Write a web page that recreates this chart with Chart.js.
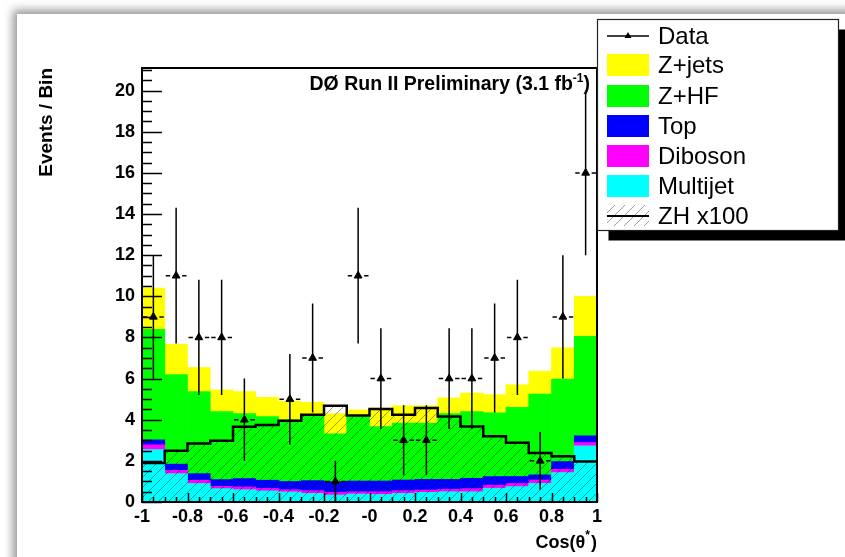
<!DOCTYPE html>
<html>
<head>
<meta charset="utf-8">
<script src="https://cdn.jsdelivr.net/npm/chart.js@4.4.1/dist/chart.umd.min.js"></script>
<style>
html, body { margin: 0; padding: 0; width: 845px; height: 557px; overflow: hidden; background: #fff; }
#paper { position: absolute; left: 17px; top: 14px; width: 900px; height: 600px; background: #fff; box-shadow: 0 0 9px 4px rgba(0,0,0,0.42); }
#wrap { position: absolute; left: 0; top: 0; width: 845px; height: 557px; }
</style>
</head>
<body>
<div id="paper"></div>
<div id="wrap"><canvas id="chartCos" width="845" height="557"></canvas></div>
<script>
// cos(theta*) distribution, 20 bins from -1 to 1
const binCenters = [-0.95, -0.85, -0.75, -0.65, -0.55, -0.45, -0.35, -0.25, -0.15, -0.05,
                    0.05, 0.15, 0.25, 0.35, 0.45, 0.55, 0.65, 0.75, 0.85, 0.95];
const binEdges = [-1, -0.9, -0.8, -0.7, -0.6, -0.5, -0.4, -0.3, -0.2, -0.1, 0,
                  0.1, 0.2, 0.3, 0.4, 0.5, 0.6, 0.7, 0.8, 0.9, 1];
const xTickLabels = ['-1', '-0.8', '-0.6', '-0.4', '-0.2', '-0', '0.2', '0.4', '0.6', '0.8', '1'];

// backgrounds (stacked, bottom to top)
const multijet = [2.55, 1.38, 0.90, 0.65, 0.60, 0.54, 0.49, 0.42, 0.34, 0.39, 0.37, 0.42, 0.47, 0.50, 0.50, 0.67, 0.75, 0.91, 1.43, 2.73];
const diboson  = [0.23, 0.16, 0.16, 0.11, 0.13, 0.12, 0.11, 0.13, 0.13, 0.11, 0.13, 0.13, 0.11, 0.12, 0.15, 0.15, 0.15, 0.16, 0.16, 0.16];
const topq     = [0.24, 0.30, 0.32, 0.33, 0.41, 0.40, 0.40, 0.49, 0.52, 0.52, 0.52, 0.52, 0.52, 0.48, 0.50, 0.42, 0.34, 0.25, 0.38, 0.33];
const zhf      = [5.38, 4.36, 3.99, 3.30, 3.16, 3.09, 3.00, 3.20, 2.33, 3.14, 2.65, 2.77, 2.74, 3.20, 3.25, 3.09, 3.36, 3.93, 4.00, 4.83];
const zjets    = [2.00, 1.47, 1.17, 1.06, 1.07, 0.94, 0.90, 0.61, 0.98, 0.32, 0.90, 0.84, 0.84, 0.76, 0.90, 0.89, 1.10, 1.11, 1.53, 1.95];

// signal x100
const zh100 = [1.90, 2.49, 2.85, 2.98, 3.66, 3.74, 3.95, 4.24, 4.68, 4.20, 4.52, 4.24, 4.57, 4.16, 3.67, 3.20, 2.88, 2.38, 2.23, 1.97];

// data and errors
const dataCounts = [9, 11, 8, 8, 4, 0, 5, 7, 1, 11, 6, 3, 3, 6, 6, 7, 8, 2, 9, 16];
const dataErr = [3.0, 3.3, 2.8, 2.8, 2.0, 0, 2.2, 2.65, 1.0, 3.3, 2.45, 1.7, 1.7, 2.45, 2.45, 2.65, 2.8, 1.4, 3.0, 4.0];

const FONT = '"Liberation Sans", Arial, Helvetica, sans-serif';

function hatch() {
    const c = document.createElement('canvas');
    c.width = 10; c.height = 10;
    const g = c.getContext('2d');
    g.strokeStyle = 'rgba(0,0,0,0.38)';
    g.lineWidth = 1;
    g.beginPath();
    g.moveTo(0, 10); g.lineTo(10, 0);
    g.moveTo(-5, 5); g.lineTo(5, -5);
    g.moveTo(5, 15); g.lineTo(15, 5);
    g.stroke();
    return g.createPattern(c, 'repeat');
}
const zhHatch = hatch();

function bkg(label, values, color) {
    return {
        type: 'bar',
        label: label,
        stack: 'bkg',
        order: 2,
        data: binCenters.map((x, i) => ({ x: x, y: values[i] })),
        backgroundColor: color,
        borderWidth: 0,
        barPercentage: 1,
        categoryPercentage: 1
    };
}

const rootLook = {
    id: 'rootLook',
    afterDatasetsDraw(chart) {
        const { ctx, scales: { x, y } } = chart;
        ctx.save();
        ctx.strokeStyle = '#000';
        ctx.lineWidth = 1.5;
        dataCounts.forEach((n, i) => {
            if (!n) return;
            const cx = x.getPixelForValue(binCenters[i]);
            const cy = y.getPixelForValue(n);
            const x0 = x.getPixelForValue(binEdges[i]);
            const x1 = x.getPixelForValue(binEdges[i + 1]);
            ctx.beginPath();
            ctx.moveTo(cx, y.getPixelForValue(n - dataErr[i]));
            ctx.lineTo(cx, y.getPixelForValue(n + dataErr[i]));
            ctx.moveTo(x0 + 1, cy); ctx.lineTo(cx - 6, cy);
            ctx.moveTo(cx + 6, cy); ctx.lineTo(x1 - 1, cy);
            ctx.stroke();
        });
        ctx.restore();
    },
    afterDraw(chart) {
        const { ctx, chartArea: a, scales: { x, y } } = chart;
        ctx.save();
        // frame
        ctx.strokeStyle = '#000';
        ctx.lineWidth = 2;
        ctx.strokeRect(a.left, a.top, a.right - a.left, a.bottom - a.top);
        // inner ticks
        ctx.lineWidth = 1.5;
        ctx.beginPath();
        for (let k = 0; k <= 42; k++) {
            const py = Math.round(y.getPixelForValue(k / 2)) + 0.5;
            const len = k % 4 === 0 ? 20 : 10;
            ctx.moveTo(a.left, py); ctx.lineTo(a.left + len, py);
        }
        for (let k = 0; k <= 40; k++) {
            const px = Math.round(x.getPixelForValue(-1 + k * 0.05)) + 0.5;
            const len = k % 4 === 0 ? 9 : 5;
            ctx.moveTo(px, a.bottom); ctx.lineTo(px, a.bottom - len);
        }
        ctx.stroke();

        ctx.fillStyle = '#000';
        // plot label
        ctx.textBaseline = 'alphabetic';
        ctx.textAlign = 'left';
        const big = 'bold 19.5px ' + FONT, small = 'bold 12px ' + FONT;
        ctx.font = big;
        const t1 = 'D\u00d8 Run II Preliminary (3.1 fb';
        const w1 = ctx.measureText(t1).width;
        const w3 = ctx.measureText(')').width;
        ctx.font = small;
        const w2 = ctx.measureText('-1').width;
        let tx = 590 - (w1 + w2 + w3);
        ctx.font = big; ctx.fillText(t1, tx, 90);
        ctx.font = small; ctx.fillText('-1', tx + w1, 82);
        ctx.font = big; ctx.fillText(')', tx + w1 + w2, 90);

        // x axis title
        const axisFont = 'bold 18px ' + FONT;
        const c1 = 'Cos(\u03b8';
        ctx.font = axisFont;
        const cw1 = ctx.measureText(c1).width;
        const cw3 = ctx.measureText(')').width;
        ctx.font = small;
        const cw2 = ctx.measureText('*').width + 1;
        tx = a.right - (cw1 + cw2 + cw3);
        ctx.font = axisFont; ctx.fillText(c1, tx, 548);
        ctx.font = small; ctx.fillText('*', tx + cw1, 539);
        ctx.font = axisFont; ctx.fillText(')', tx + cw1 + cw2, 548);

        // y axis title
        ctx.save();
        ctx.translate(47, a.top);
        ctx.rotate(-Math.PI / 2);
        ctx.textAlign = 'right';
        ctx.textBaseline = 'middle';
        ctx.font = 'bold 19px ' + FONT;
        ctx.fillText('Events / Bin', 0, 0);
        ctx.restore();

        // legend box with shadow
        const lg = { x: 597.5, y: 19.5, w: 241, h: 211 };
        ctx.fillStyle = '#000';
        ctx.fillRect(lg.x + 11, lg.y + 10, lg.w, lg.h);
        ctx.fillStyle = '#fff';
        ctx.fillRect(lg.x, lg.y, lg.w, lg.h);
        ctx.strokeStyle = '#222';
        ctx.lineWidth = 1.2;
        ctx.strokeRect(lg.x, lg.y, lg.w, lg.h);

        const ds = chart.data.datasets;
        const byLabel = l => ds.find(d => d.label === l);
        const entries = ['Data', 'Z+jets', 'Z+HF', 'Top', 'Diboson', 'Multijet', 'ZH x100'];
        const rowY = [36, 65, 96, 126, 156, 186, 216];
        ctx.font = '24px ' + FONT;
        ctx.textAlign = 'left';
        ctx.textBaseline = 'middle';
        entries.forEach((name, i) => {
            const d = byLabel(name);
            const cy = rowY[i];
            if (name === 'Data') {
                ctx.strokeStyle = '#000'; ctx.lineWidth = 1.5;
                ctx.beginPath(); ctx.moveTo(607, cy); ctx.lineTo(649, cy); ctx.stroke();
                ctx.fillStyle = '#000';
                ctx.beginPath(); ctx.moveTo(628, cy - 4); ctx.lineTo(631.5, cy + 2); ctx.lineTo(624.5, cy + 2); ctx.closePath(); ctx.fill();
            } else if (name === 'ZH x100') {
                ctx.fillStyle = d.backgroundColor;
                ctx.fillRect(607, cy - 11, 42, 21);
                ctx.strokeStyle = '#000'; ctx.lineWidth = 2;
                ctx.beginPath(); ctx.moveTo(607, cy); ctx.lineTo(649, cy); ctx.stroke();
            } else {
                ctx.fillStyle = d.backgroundColor;
                ctx.fillRect(607, cy - 11, 42, 22);
            }
            ctx.fillStyle = '#000';
            ctx.fillText(name, 658, cy + 1);
        });
        ctx.restore();
    }
};

const ctxCos = document.querySelector('#chartCos').getContext('2d');
const cosChart = new Chart(ctxCos, {
    type: 'bar',
    data: {
        datasets: [
            bkg('Multijet', multijet, '#00ffff'),
            bkg('Diboson', diboson, '#ff00ff'),
            bkg('Top', topq, '#0000ff'),
            bkg('Z+HF', zhf, '#00ff00'),
            bkg('Z+jets', zjets, '#ffff00'),
            {
                type: 'line',
                label: 'ZH x100',
                stack: 'zh',
                order: 1,
                data: binEdges.map((e, i) => ({ x: e, y: zh100[Math.min(i, zh100.length - 1)] })),
                stepped: 'before',
                borderColor: '#000',
                borderWidth: 2.5,
                pointRadius: 0,
                fill: 'origin',
                backgroundColor: zhHatch
            },
            {
                type: 'line',
                label: 'Data',
                stack: 'data',
                order: 0,
                showLine: false,
                data: binCenters.map((x, i) => ({ x: x, y: dataCounts[i] > 0 ? dataCounts[i] : null })),
                pointStyle: 'triangle',
                pointRadius: 4.5,
                pointBackgroundColor: '#000',
                pointBorderColor: '#000',
                pointBorderWidth: 1
            }
        ]
    },
    options: {
        responsive: false,
        animation: false,
        events: [],
        layout: { padding: { top: 68, right: 248, left: 0, bottom: 0 } },
        plugins: {
            legend: { display: false },
            tooltip: { enabled: false }
        },
        scales: {
            x: {
                type: 'linear',
                min: -1,
                max: 1,
                offset: false,
                stacked: true,
                grid: { display: false, drawTicks: false, offset: false },
                border: { display: false },
                ticks: {
                    stepSize: 0.2,
                    padding: 4,
                    maxRotation: 0,
                    autoSkip: false,
                    color: '#000',
                    font: { family: FONT, size: 18, weight: 'bold' },
                    callback: (v, i) => xTickLabels[i]
                },
                afterFit: s => { s.height = 55; }
            },
            y: {
                min: 0,
                max: 21.1,
                stacked: true,
                grid: { display: false, drawTicks: false },
                border: { display: false },
                ticks: {
                    stepSize: 2,
                    includeBounds: false,
                    padding: 7,
                    color: '#000',
                    font: { family: FONT, size: 18, weight: 'bold' }
                },
                afterFit: s => { s.width = 142; }
            }
        }
    },
    plugins: [rootLook]
});
</script>
</body>
</html>
